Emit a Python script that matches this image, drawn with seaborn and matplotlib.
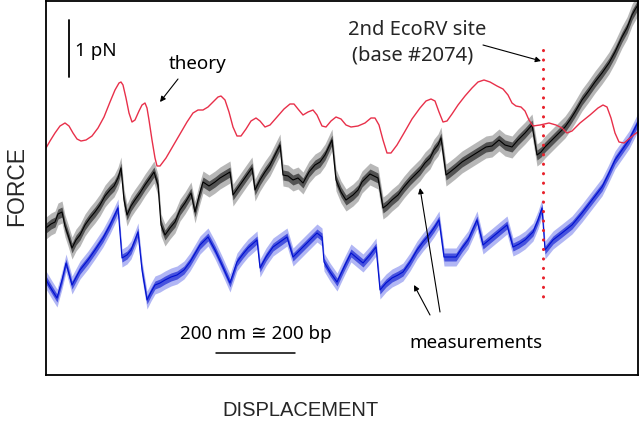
import matplotlib
matplotlib.use("Agg")
import matplotlib.pyplot as plt
import seaborn as sns
import pandas as pd

# values, in the picture's own units (pixels, y downwards)
theory_x = [46, 50, 55, 60, 65, 69, 73, 77, 81, 86, 92, 98, 104, 110, 115, 119, 121, 123, 126,
            129, 132, 135, 139, 142, 145, 147, 149, 152, 155, 157, 160, 166, 173, 180, 187, 193,
            198, 203, 208, 213, 218, 221, 225, 229, 233, 237, 241, 246, 251, 256, 260, 265, 270,
            277, 284, 290, 294, 298, 303, 308, 313, 317, 322, 326, 331, 336, 341, 346, 351, 358,
            365, 371, 375, 379, 383, 387, 391, 397, 404, 412, 420, 426, 431, 435, 439, 443, 447,
            452, 458, 465, 472, 478, 484, 490, 497, 503, 508, 512, 516, 521, 525, 529, 533, 540,
            549, 556, 562, 567, 572, 580, 590, 598, 603, 607, 611, 615, 619, 624, 630, 635, 639]
theory_y = [148, 141, 133, 126, 123, 126, 133, 139, 141, 140, 136, 128, 117, 102, 90, 83, 82, 85, 98,
            113, 122, 120, 111, 105, 103, 108, 120, 140, 158, 166, 166, 158, 146, 134, 122, 113,
            110, 110, 107, 102, 97, 96, 100, 112, 127, 136, 136, 129, 121, 118, 121, 127, 125,
            117, 109, 104, 104, 109, 115, 112, 110, 115, 126, 127, 121, 117, 119, 125, 127, 126,
            123, 118, 118, 125, 140, 153, 153, 145, 133, 119, 108, 101, 99, 101, 112, 122, 121,
            114, 105, 96, 88, 82, 80, 82, 86, 89, 95, 103, 106, 107, 111, 120, 126, 125,
            123, 125, 128, 133, 131, 123, 115, 108, 105, 107, 118, 133, 142, 143, 138, 134, 131]

black_x = [46, 51, 55, 58, 62, 65, 68, 72, 76, 80, 85, 90, 95, 100, 105, 110, 114, 118, 121, 124,
           127, 131, 135, 140, 145, 150, 154, 158, 161, 165, 170, 175, 180, 185, 191, 195, 199,
           203, 209, 215, 220, 225, 230, 233, 240, 247, 252, 255, 260, 265, 270, 275, 280, 283,
           288, 293, 298, 303, 309, 315, 320, 325, 332, 336, 341, 346, 353, 358, 362, 370, 378,
           383, 387, 392, 398, 404, 410, 415, 420, 425, 430, 434, 438, 441, 446, 450, 455, 462,
           470, 478, 486, 492, 499, 505, 512, 518, 525, 532, 537, 541, 545, 552, 559, 565, 570,
           575, 582, 588, 595, 602, 609, 615, 622, 627, 632, 636, 640]
black_y = [228, 224, 222, 214, 212, 226, 235, 248, 240, 235, 225, 218, 212, 205, 196, 190, 186, 178,
           168, 200, 215, 206, 200, 193, 185, 178, 172, 185, 225, 235, 228, 222, 210, 203, 193,
           212, 196, 182, 186, 182, 178, 175, 172, 195, 185, 175, 168, 190, 180, 172, 165, 155,
           145, 175, 176, 180, 178, 183, 172, 165, 162, 155, 140, 180, 192, 200, 195, 190, 182,
           174, 178, 208, 205, 200, 195, 187, 180, 175, 170, 163, 158, 150, 145, 138, 175, 172,
           168, 162, 157, 152, 147, 146, 140, 145, 147, 140, 133, 125, 155, 152, 147, 140, 133,
           127, 120, 112, 100, 92, 82, 73, 63, 52, 37, 28, 15, 8, 2]

blue_x = [46, 52, 57, 62, 66, 72, 80, 88, 95, 103, 110, 118, 122, 127, 131, 135, 138, 142, 147, 151,
          155, 160, 165, 171, 177, 184, 190, 200, 208, 215, 222, 230, 237, 243, 248, 257, 260,
          266, 273, 280, 287, 293, 300, 310, 317, 322, 324, 330, 337, 345, 351, 357, 363, 370,
          376, 380, 386, 392, 398, 403, 410, 417, 423, 429, 434, 439, 444, 450, 456, 462, 468,
          477, 483, 489, 495, 501, 507, 513, 519, 525, 533, 538, 542, 545, 549, 553, 562, 572,
          582, 592, 602, 608, 615, 622, 629, 634, 639]
blue_y = [280, 290, 298, 280, 263, 285, 270, 260, 250, 238, 225, 208, 258, 255, 250, 240, 232, 270,
          300, 292, 285, 283, 280, 277, 275, 270, 262, 245, 237, 250, 265, 283, 262, 254, 248,
          240, 268, 257, 247, 242, 237, 257, 250, 240, 233, 237, 262, 272, 282, 265, 253, 258,
          263, 255, 247, 290, 283, 278, 275, 272, 262, 250, 242, 235, 228, 220, 257, 257, 257,
          248, 240, 220, 245, 240, 235, 230, 225, 247, 244, 240, 232, 220, 208, 250, 245, 240,
          233, 225, 213, 200, 187, 175, 160, 150, 140, 130, 120]

site_x = 543
site_span = [50, 297]

theory = pd.DataFrame({"x": theory_x, "y": theory_y})
black = pd.DataFrame({"x": black_x, "y": black_y})
blue = pd.DataFrame({"x": blue_x, "y": blue_y})

sns.set_style("white")
plt.rcParams["font.family"] = ["Liberation Sans", "DejaVu Sans"]

fig = plt.figure(figsize=(6.4, 4.21), dpi=100)
ax = fig.add_axes([46 / 640, 46 / 421, 592 / 640, 374 / 421])

# noisy measurement traces: a wide faint band and a darker core round the centre line
ax.fill_between(black["x"], black["y"] - 11, black["y"] + 11, color="#333333", alpha=0.35, lw=0)
ax.fill_between(black["x"], black["y"] - 5, black["y"] + 5, color="#111111", alpha=0.6, lw=0)
sns.lineplot(data=black, x="x", y="y", ax=ax, color="black", lw=0.8, sort=False)
ax.fill_between(blue["x"], blue["y"] - 9, blue["y"] + 9, color="#2030e0", alpha=0.35, lw=0)
ax.fill_between(blue["x"], blue["y"] - 4, blue["y"] + 4, color="#0010d0", alpha=0.6, lw=0)
sns.lineplot(data=blue, x="x", y="y", ax=ax, color="#0010d0", lw=0.8, sort=False)
sns.lineplot(data=theory, x="x", y="y", ax=ax, color="#e8304a", lw=1.0, sort=False)

ax.plot([site_x, site_x], site_span, color="#e8202a", lw=2.2, ls=(0, (0.05, 3.05)),
        dash_capstyle="round")

ax.set_xlim(46, 638)
ax.set_ylim(375, 1)
ax.set_xticks([])
ax.set_yticks([])
ax.set_xlabel("")
ax.set_ylabel("")
for s in ax.spines.values():
    s.set_color("black")
    s.set_linewidth(1.3)

ann = dict(family=["Noto Sans", "DejaVu Sans"], fontsize=13.5, color="black")
arrow = dict(arrowstyle="-|>", color="black", lw=0.8, mutation_scale=8, shrinkA=0, shrinkB=0)

# 1 pN scale bar
ax.plot([69, 69], [20, 77], color="black", lw=1.3)
ax.text(75, 51, "1 pN", va="center", ha="left", **ann)

ax.text(198, 64, "theory", va="center", ha="center", **ann)
ax.annotate("", xy=(160, 102), xytext=(178, 79), arrowprops=arrow)

ax.text(417, 30, "2nd EcoRV site", va="center", ha="center",
        family=["Noto Sans", "DejaVu Sans"], fontsize=14.5)
ax.text(413, 56, "(base #2074)", va="center", ha="center",
        family=["Noto Sans", "DejaVu Sans"], fontsize=14.5)
ax.annotate("", xy=(541, 61), xytext=(483, 45), arrowprops=arrow)

ax.text(256, 334, "200 nm \u2245 200 bp", va="center", ha="center", **ann)
ax.plot([216, 295], [353, 353], color="black", lw=1.1)

ax.text(476, 343, "measurements", va="center", ha="center", **ann)
ax.annotate("", xy=(414, 285), xytext=(430, 315), arrowprops=arrow)
ax.annotate("", xy=(420, 188), xytext=(440, 312), arrowprops=arrow)

fig.text(17 / 640, 1 - 186 / 421, "FORCE", rotation=90, va="center", ha="center", fontsize=16.5)
fig.text(300 / 640, 1 - 411 / 421, "DISPLACEMENT", va="center", ha="center", fontsize=14.5)

fig.savefig("out.png", dpi=100)
